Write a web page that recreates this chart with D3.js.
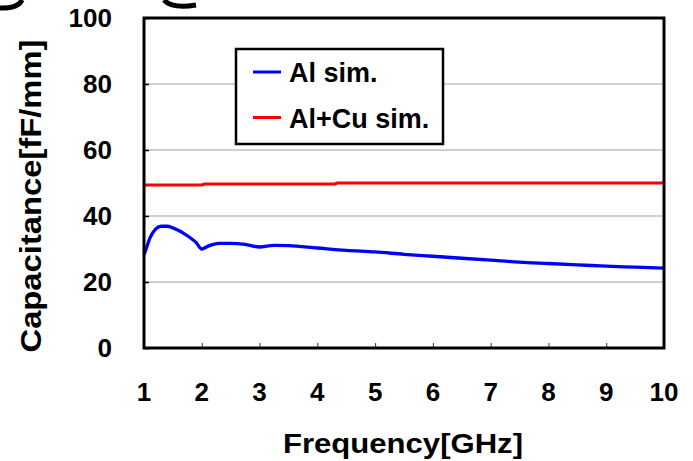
<!DOCTYPE html>
<html>
<head>
<meta charset="utf-8">
<script src="https://cdn.jsdelivr.net/npm/d3@7"></script>
<style>
  body { margin: 0; background: #fff; }
  svg text { font-family: "Liberation Sans", Arial, sans-serif; font-weight: bold; fill: #000; }
</style>
</head>
<body>
<div id="graph"></div>
<script>
// Data ////////////////////////////////////////////////////////////////
const alFreq = [1, 1.05, 1.1, 1.2, 1.3, 1.4, 1.5, 1.6, 1.7, 1.8, 1.9, 2.0, 2.1, 2.2, 2.3, 2.5, 2.75,
  3.0, 3.25, 3.5, 4, 4.5, 5, 5.5, 6, 6.5, 7, 7.5, 8, 8.5, 9, 9.5, 10];
const alCap = [28.2, 30.7, 33.2, 36.0, 36.9, 36.9, 36.4, 35.6, 34.6, 33.4, 32.0, 30.0, 30.8, 31.4, 31.7,
  31.7, 31.4, 30.6, 31.1, 31.0, 30.3, 29.6, 29.1, 28.4, 27.8, 27.2, 26.6, 26.0, 25.6, 25.2, 24.8, 24.5, 24.2];
const alCuFreq = [1, 2, 2.05, 4.3, 4.35, 10];
const alCuCap = [49.4, 49.4, 49.7, 49.7, 50.0, 50.0];

const xTicks = [1, 2, 3, 4, 5, 6, 7, 8, 9, 10];
const yTicks = [0, 20, 40, 60, 80, 100];
const seriesNames = ["Al sim.", "Al+Cu sim."];
const seriesColors = ["#0000ff", "#ff0000"];

// Constants ////////////////////////////////////////////////////////////
const width = 693;
const height = 461;
const plot = { left: 144, right: 664, top: 18, bottom: 348 };

const svg = d3.select("#graph")
  .append("svg")
  .attr("width", width)
  .attr("height", height);

const x = d3.scaleLinear().domain([1, 10]).range([plot.left, plot.right]);
const y = d3.scaleLinear().domain([0, 100]).range([plot.bottom, plot.top]);

// stray bits of cropped text at the top
svg.append("path")
  .attr("d", "M-2,8 Q18,9 22,0")
  .attr("fill", "none").attr("stroke", "#000").attr("stroke-width", 5);
svg.append("path")
  .attr("d", "M164,0 Q172,9 196,5")
  .attr("fill", "none").attr("stroke", "#000").attr("stroke-width", 5);

// Grid /////////////////////////////////////////////////////////////////
svg.append("g")
  .selectAll("line")
  .data(yTicks.filter(d => d > 0 && d < 100))
  .join("line")
  .attr("x1", plot.left).attr("x2", plot.right)
  .attr("y1", d => y(d)).attr("y2", d => y(d))
  .attr("stroke", "#a0a0a0").attr("stroke-width", 1);

// Axes /////////////////////////////////////////////////////////////////
const xAxis = svg.append("g")
  .attr("transform", `translate(0,${plot.bottom})`)
  .call(d3.axisBottom(x).tickValues(xTicks).tickSize(-5).tickFormat(""));
xAxis.select(".domain").remove();
xAxis.selectAll("line").attr("stroke", "#333");

const yAxis = svg.append("g")
  .attr("transform", `translate(${plot.left},0)`)
  .call(d3.axisLeft(y).tickValues(yTicks).tickSize(-5).tickFormat(""));
yAxis.select(".domain").remove();
yAxis.selectAll("line").attr("stroke", "#000").attr("stroke-width", 1.5);

svg.append("g")
  .selectAll("text")
  .data(xTicks)
  .join("text")
  .attr("x", d => x(d))
  .attr("y", 401)
  .attr("text-anchor", "middle")
  .style("font-size", "26px")
  .text(d => d);

svg.append("g")
  .selectAll("text")
  .data(yTicks)
  .join("text")
  .attr("x", 112)
  .attr("y", d => y(d) + 9)
  .attr("text-anchor", "end")
  .style("font-size", "26px")
  .text(d => d);

// Lines ////////////////////////////////////////////////////////////////
const line = d3.line().x(d => x(d[0])).y(d => y(d[1])).curve(d3.curveMonotoneX);

svg.append("path")
  .datum(alCuFreq.map((f, i) => [f, alCuCap[i]]))
  .attr("d", d3.line().x(d => x(d[0])).y(d => y(d[1])))
  .attr("fill", "none")
  .attr("stroke", seriesColors[1])
  .attr("stroke-width", 3);

svg.append("path")
  .datum(alFreq.map((f, i) => [f, alCap[i]]))
  .attr("d", line)
  .attr("fill", "none")
  .attr("stroke", seriesColors[0])
  .attr("stroke-width", 3.3);

// Frame ////////////////////////////////////////////////////////////////
svg.append("rect")
  .attr("x", plot.left).attr("y", plot.top)
  .attr("width", plot.right - plot.left)
  .attr("height", plot.bottom - plot.top)
  .attr("fill", "none")
  .attr("stroke", "#000")
  .attr("stroke-width", 3);

// Titles ///////////////////////////////////////////////////////////////
svg.append("text")
  .attr("x", 403)
  .attr("y", 453)
  .attr("text-anchor", "middle")
  .attr("textLength", 240)
  .attr("lengthAdjust", "spacingAndGlyphs")
  .style("font-size", "27px")
  .text("Frequency[GHz]");

svg.append("text")
  .attr("transform", "translate(41,196) rotate(-90)")
  .attr("text-anchor", "middle")
  .attr("textLength", 313)
  .attr("lengthAdjust", "spacingAndGlyphs")
  .style("font-size", "29px")
  .text("Capacitance[fF/mm]");

// Legend ///////////////////////////////////////////////////////////////
const legend = svg.append("g");
legend.append("rect")
  .attr("x", 236).attr("y", 49)
  .attr("width", 207).attr("height", 95)
  .attr("fill", "#fff")
  .attr("stroke", "#000")
  .attr("stroke-width", 2.5);

const legendItem = legend.selectAll(".legendItem")
  .data(seriesNames)
  .join("g")
  .attr("class", "legendItem")
  .attr("transform", (d, i) => `translate(0,${72 + i * 45.5})`);

legendItem.append("line")
  .attr("x1", 253).attr("x2", 281)
  .attr("stroke", (d, i) => seriesColors[i])
  .attr("stroke-width", 3);

legendItem.append("text")
  .attr("x", 289)
  .attr("y", 10)
  .style("font-size", "27px")
  .text(d => d);
</script>
</body>
</html>
